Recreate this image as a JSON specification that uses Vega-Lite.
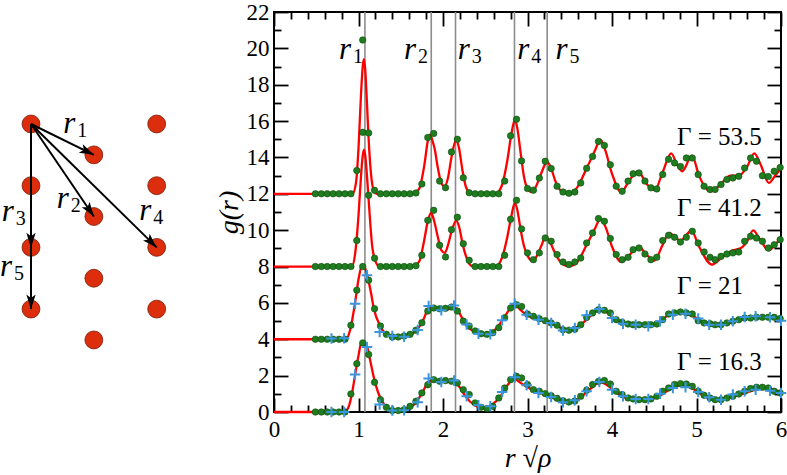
{
"$schema":"https://vega.github.io/schema/vega-lite/v6.json",
"padding":0,
"background":"white",
"spacing":0,
"config":{"view":{"stroke":null},"font":"Liberation Serif, Times New Roman, serif","axis":{"labelFont":"Liberation Serif, Times New Roman, serif","titleFont":"Liberation Serif, Times New Roman, serif","labelColor":"black","titleColor":"black","titleFontWeight":"normal"}},
"datasets":{
"lattice":[{"c":0,"r":0},{"c":0,"r":1},{"c":0,"r":2},{"c":0,"r":3},{"c":1,"r":0.5},{"c":1,"r":1.5},{"c":1,"r":2.5},{"c":1,"r":3.5},{"c":2,"r":0},{"c":2,"r":1},{"c":2,"r":2},{"c":2,"r":3}],
"bonds":[{"c0":0,"r0":0,"c":1,"r":0.5},{"c0":0,"r0":0,"c":1,"r":1.5},{"c0":0,"r0":0,"c":2,"r":2},{"c0":0,"r0":0,"c":0,"r":3}],
"heads":[{"c0":0,"r0":0,"c":1,"r":0.5},{"c0":0,"r0":0,"c":1,"r":1.5},{"c0":0,"r0":0,"c":2,"r":2},{"c0":0,"r0":0,"c":0,"r":2},{"c0":0,"r0":0,"c":0,"r":3}],
"latlab":[{"n":"1","c":0.514,"r":0.146},{"n":"2","c":0.409,"r":1.361},{"n":"4","c":1.723,"r":1.549},{"n":"3","c":-0.466,"r":1.577},{"n":"5","c":-0.493,"r":2.468}],
"shells":[{"x":1.076},{"x":1.861},{"x":2.148},{"x":2.846},{"x":3.233}],
"rlab":[{"n":"1","x":0.769,"y":19.44},{"n":"2","x":1.538,"y":19.44},{"n":"3","x":2.176,"y":19.44},{"n":"4","x":2.878,"y":19.44},{"n":"5","x":3.331,"y":19.44}],
"gam":[{"t":"Γ = 53.5","x":4.77,"y":14.67},{"t":"Γ = 41.2","x":4.77,"y":10.76},{"t":"Γ = 21","x":4.77,"y":6.51},{"t":"Γ = 16.3","x":4.77,"y":2.33}],
"theory":[
{"s":"a","x":0,"y":12},{"s":"a","x":0.93,"y":12},{"s":"a","x":0.97,"y":12.6},{"s":"a","x":1.0,"y":14.5},{"s":"a","x":1.03,"y":17.5},{"s":"a","x":1.05,"y":19.0},{"s":"a","x":1.064,"y":19.4},{"s":"a","x":1.08,"y":18.8},{"s":"a","x":1.1,"y":17.0},{"s":"a","x":1.12,"y":15.0},{"s":"a","x":1.15,"y":13.0},{"s":"a","x":1.18,"y":12.2},{"s":"a","x":1.22,"y":12.0},{"s":"a","x":1.65,"y":12.0},{"s":"a","x":1.72,"y":12.3},{"s":"a","x":1.78,"y":13.6},{"s":"a","x":1.82,"y":14.9},{"s":"a","x":1.845,"y":15.26},{"s":"a","x":1.87,"y":15.0},{"s":"a","x":1.9,"y":14.5},{"s":"a","x":1.94,"y":13.4},{"s":"a","x":1.98,"y":12.6},{"s":"a","x":2.02,"y":12.41},{"s":"a","x":2.06,"y":12.9},{"s":"a","x":2.1,"y":14.0},{"s":"a","x":2.156,"y":14.98},{"s":"a","x":2.19,"y":14.5},{"s":"a","x":2.23,"y":13.3},{"s":"a","x":2.27,"y":12.4},{"s":"a","x":2.32,"y":12.05},{"s":"a","x":2.36,"y":12.0},{"s":"a","x":2.62,"y":12.0},{"s":"a","x":2.7,"y":12.5},{"s":"a","x":2.76,"y":13.8},{"s":"a","x":2.81,"y":15.3},{"s":"a","x":2.85,"y":16.08},{"s":"a","x":2.88,"y":15.6},{"s":"a","x":2.92,"y":14.2},{"s":"a","x":2.96,"y":12.9},{"s":"a","x":3.0,"y":12.3},{"s":"a","x":3.05,"y":12.1},{"s":"a","x":3.1,"y":12.4},{"s":"a","x":3.16,"y":13.1},{"s":"a","x":3.232,"y":13.75},{"s":"a","x":3.28,"y":13.4},{"s":"a","x":3.33,"y":12.7},{"s":"a","x":3.4,"y":12.15},{"s":"a","x":3.49,"y":12.0},{"s":"a","x":3.58,"y":12.3},{"s":"a","x":3.7,"y":13.4},{"s":"a","x":3.8,"y":14.4},{"s":"a","x":3.863,"y":14.98},{"s":"a","x":3.92,"y":14.4},{"s":"a","x":4.0,"y":13.1},{"s":"a","x":4.11,"y":12.1},{"s":"a","x":4.2,"y":12.7},{"s":"a","x":4.31,"y":13.24},{"s":"a","x":4.4,"y":12.6},{"s":"a","x":4.506,"y":12.2},{"s":"a","x":4.6,"y":13.2},{"s":"a","x":4.7,"y":14.22},{"s":"a","x":4.77,"y":13.6},{"s":"a","x":4.83,"y":13.24},{"s":"a","x":4.947,"y":14.1},{"s":"a","x":5.03,"y":13.0},{"s":"a","x":5.164,"y":12.13},{"s":"a","x":5.28,"y":12.5},{"s":"a","x":5.4,"y":13.0},{"s":"a","x":5.5,"y":13.0},{"s":"a","x":5.6,"y":13.5},{"s":"a","x":5.684,"y":14.22},{"s":"a","x":5.76,"y":13.6},{"s":"a","x":5.855,"y":12.6},{"s":"a","x":5.93,"y":13.0},{"s":"a","x":6.0,"y":13.4},
{"s":"b","x":0,"y":8},{"s":"b","x":0.92,"y":8},{"s":"b","x":0.96,"y":8.7},{"s":"b","x":1.0,"y":10.8},{"s":"b","x":1.03,"y":13.0},{"s":"b","x":1.05,"y":14.1},{"s":"b","x":1.065,"y":14.43},{"s":"b","x":1.08,"y":14.1},{"s":"b","x":1.1,"y":13.0},{"s":"b","x":1.13,"y":11.0},{"s":"b","x":1.16,"y":9.2},{"s":"b","x":1.2,"y":8.3},{"s":"b","x":1.25,"y":8.0},{"s":"b","x":1.65,"y":8.0},{"s":"b","x":1.72,"y":8.3},{"s":"b","x":1.78,"y":9.5},{"s":"b","x":1.82,"y":10.5},{"s":"b","x":1.861,"y":10.95},{"s":"b","x":1.89,"y":10.6},{"s":"b","x":1.94,"y":9.6},{"s":"b","x":1.98,"y":8.9},{"s":"b","x":2.022,"y":8.75},{"s":"b","x":2.06,"y":9.2},{"s":"b","x":2.1,"y":9.9},{"s":"b","x":2.156,"y":10.53},{"s":"b","x":2.19,"y":10.2},{"s":"b","x":2.23,"y":9.3},{"s":"b","x":2.27,"y":8.6},{"s":"b","x":2.32,"y":8.1},{"s":"b","x":2.36,"y":8.0},{"s":"b","x":2.62,"y":8.0},{"s":"b","x":2.7,"y":8.5},{"s":"b","x":2.76,"y":9.6},{"s":"b","x":2.81,"y":10.8},{"s":"b","x":2.85,"y":11.5},{"s":"b","x":2.88,"y":11.1},{"s":"b","x":2.92,"y":10.0},{"s":"b","x":2.96,"y":9.1},{"s":"b","x":3.0,"y":8.6},{"s":"b","x":3.055,"y":8.33},{"s":"b","x":3.1,"y":8.5},{"s":"b","x":3.16,"y":9.1},{"s":"b","x":3.212,"y":9.61},{"s":"b","x":3.26,"y":9.4},{"s":"b","x":3.32,"y":8.8},{"s":"b","x":3.4,"y":8.2},{"s":"b","x":3.49,"y":8.01},{"s":"b","x":3.58,"y":8.2},{"s":"b","x":3.7,"y":9.2},{"s":"b","x":3.8,"y":10.1},{"s":"b","x":3.863,"y":10.64},{"s":"b","x":3.93,"y":10.1},{"s":"b","x":4.0,"y":9.1},{"s":"b","x":4.11,"y":8.25},{"s":"b","x":4.2,"y":8.6},{"s":"b","x":4.317,"y":9.11},{"s":"b","x":4.4,"y":8.7},{"s":"b","x":4.5,"y":8.33},{"s":"b","x":4.6,"y":9.2},{"s":"b","x":4.68,"y":9.85},{"s":"b","x":4.75,"y":9.6},{"s":"b","x":4.81,"y":9.43},{"s":"b","x":4.94,"y":9.98},{"s":"b","x":5.03,"y":9.1},{"s":"b","x":5.184,"y":8.11},{"s":"b","x":5.3,"y":8.5},{"s":"b","x":5.42,"y":8.88},{"s":"b","x":5.52,"y":9.0},{"s":"b","x":5.6,"y":9.4},{"s":"b","x":5.67,"y":9.99},{"s":"b","x":5.75,"y":9.5},{"s":"b","x":5.855,"y":8.89},{"s":"b","x":5.93,"y":9.2},{"s":"b","x":6.0,"y":9.57},
{"s":"c","x":0,"y":4},{"s":"c","x":0.85,"y":4.0},{"s":"c","x":0.9,"y":4.5},{"s":"c","x":0.958,"y":5.96},{"s":"c","x":1.0,"y":7.3},{"s":"c","x":1.045,"y":8.1},{"s":"c","x":1.08,"y":7.9},{"s":"c","x":1.104,"y":7.5},{"s":"c","x":1.15,"y":6.5},{"s":"c","x":1.18,"y":5.72},{"s":"c","x":1.26,"y":4.71},{"s":"c","x":1.35,"y":4.2},{"s":"c","x":1.458,"y":4.11},{"s":"c","x":1.58,"y":4.2},{"s":"c","x":1.695,"y":4.53},{"s":"c","x":1.77,"y":5.1},{"s":"c","x":1.833,"y":5.72},{"s":"c","x":1.9,"y":5.75},{"s":"c","x":1.95,"y":5.72},{"s":"c","x":2.04,"y":5.63},{"s":"c","x":2.13,"y":5.77},{"s":"c","x":2.2,"y":5.4},{"s":"c","x":2.266,"y":4.8},{"s":"c","x":2.38,"y":4.4},{"s":"c","x":2.503,"y":4.22},{"s":"c","x":2.6,"y":4.45},{"s":"c","x":2.7,"y":5.02},{"s":"c","x":2.78,"y":5.6},{"s":"c","x":2.838,"y":5.94},{"s":"c","x":2.92,"y":5.6},{"s":"c","x":3.016,"y":5.26},{"s":"c","x":3.12,"y":5.1},{"s":"c","x":3.21,"y":5.0},{"s":"c","x":3.29,"y":4.9},{"s":"c","x":3.41,"y":4.6},{"s":"c","x":3.49,"y":4.53},{"s":"c","x":3.6,"y":4.7},{"s":"c","x":3.75,"y":5.3},{"s":"c","x":3.863,"y":5.67},{"s":"c","x":3.95,"y":5.45},{"s":"c","x":4.05,"y":5.05},{"s":"c","x":4.12,"y":4.9},{"s":"c","x":4.25,"y":4.8},{"s":"c","x":4.435,"y":4.77},{"s":"c","x":4.55,"y":4.95},{"s":"c","x":4.68,"y":5.35},{"s":"c","x":4.81,"y":5.45},{"s":"c","x":4.95,"y":5.3},{"s":"c","x":5.05,"y":5.0},{"s":"c","x":5.22,"y":4.75},{"s":"c","x":5.4,"y":4.9},{"s":"c","x":5.578,"y":5.17},{"s":"c","x":5.78,"y":5.26},{"s":"c","x":5.9,"y":5.2},{"s":"c","x":6.0,"y":5.08},
{"s":"d","x":0,"y":0},{"s":"d","x":0.83,"y":0},{"s":"d","x":0.88,"y":0.25},{"s":"d","x":0.93,"y":1.2},{"s":"d","x":0.958,"y":2.0},{"s":"d","x":1.0,"y":3.1},{"s":"d","x":1.036,"y":3.85},{"s":"d","x":1.07,"y":3.75},{"s":"d","x":1.104,"y":3.55},{"s":"d","x":1.14,"y":2.8},{"s":"d","x":1.183,"y":1.87},{"s":"d","x":1.23,"y":1.1},{"s":"d","x":1.28,"y":0.59},{"s":"d","x":1.35,"y":0.2},{"s":"d","x":1.42,"y":0.08},{"s":"d","x":1.55,"y":0.15},{"s":"d","x":1.675,"y":0.5},{"s":"d","x":1.76,"y":1.1},{"s":"d","x":1.833,"y":1.69},{"s":"d","x":1.9,"y":1.75},{"s":"d","x":1.95,"y":1.69},{"s":"d","x":2.05,"y":1.65},{"s":"d","x":2.12,"y":1.7},{"s":"d","x":2.2,"y":1.35},{"s":"d","x":2.266,"y":0.86},{"s":"d","x":2.38,"y":0.35},{"s":"d","x":2.484,"y":0.19},{"s":"d","x":2.58,"y":0.4},{"s":"d","x":2.68,"y":0.86},{"s":"d","x":2.76,"y":1.45},{"s":"d","x":2.838,"y":1.82},{"s":"d","x":2.92,"y":1.6},{"s":"d","x":3.016,"y":1.32},{"s":"d","x":3.12,"y":1.1},{"s":"d","x":3.21,"y":0.96},{"s":"d","x":3.4,"y":0.6},{"s":"d","x":3.49,"y":0.53},{"s":"d","x":3.6,"y":0.7},{"s":"d","x":3.75,"y":1.3},{"s":"d","x":3.863,"y":1.65},{"s":"d","x":3.95,"y":1.45},{"s":"d","x":4.05,"y":1.05},{"s":"d","x":4.12,"y":0.86},{"s":"d","x":4.25,"y":0.72},{"s":"d","x":4.435,"y":0.68},{"s":"d","x":4.55,"y":0.85},{"s":"d","x":4.7,"y":1.3},{"s":"d","x":4.83,"y":1.47},{"s":"d","x":4.95,"y":1.3},{"s":"d","x":5.05,"y":1.0},{"s":"d","x":5.22,"y":0.68},{"s":"d","x":5.4,"y":0.8},{"s":"d","x":5.578,"y":1.04},{"s":"d","x":5.775,"y":1.29},{"s":"d","x":5.9,"y":1.25},{"s":"d","x":6.0,"y":1.1}
],
"sim":[
{"x":0.49,"a":12,"b":8,"c":4,"d":0},{"x":0.56,"a":12,"b":8,"c":4,"d":0},{"x":0.63,"a":12,"b":8,"c":4,"d":0},{"x":0.70,"a":12,"b":8,"c":4,"d":0},{"x":0.77,"a":12,"b":8,"c":4,"d":0},{"x":0.84,"a":12,"b":8,"c":4,"d":0},{"x":0.91,"a":12,"b":8,"c":4.77,"d":0.99},{"x":0.98,"a":13.28,"b":9.43,"c":6.7,"d":2.66},{"x":1.05,"a":20.46,"b":15.38,"c":8.0,"d":3.8},{"x":1.12,"a":15.35,"b":11.92,"c":7.25,"d":3.16},{"x":1.19,"a":12.19,"b":8.46,"c":5.68,"d":1.63},{"x":1.26,"a":12,"b":8,"c":4.73,"d":0.68},{"x":1.33,"a":12,"b":8,"c":4.27,"d":0.26},{"x":1.40,"a":12,"b":8,"c":4.13,"d":0.08},{"x":1.47,"a":12,"b":8,"c":4.13,"d":0.08},{"x":1.54,"a":12,"b":8,"c":4.18,"d":0.13},{"x":1.61,"a":12,"b":8,"c":4.27,"d":0.31},{"x":1.68,"a":12.05,"b":8.05,"c":4.5,"d":0.59},{"x":1.75,"a":12.54,"b":8.62,"c":4.91,"d":1.05},{"x":1.82,"a":15.1,"b":10.54,"c":5.55,"d":1.5},{"x":1.89,"a":15.32,"b":11.09,"c":5.72,"d":1.78},{"x":1.96,"a":12.7,"b":9.17,"c":5.68,"d":1.69},{"x":2.03,"a":12.34,"b":8.53,"c":5.7,"d":1.73},{"x":2.10,"a":14.3,"b":10.03,"c":5.77,"d":1.69},{"x":2.17,"a":15.0,"b":10.71,"c":5.55,"d":1.6},{"x":2.24,"a":12.88,"b":9.26,"c":5.0,"d":1.23},{"x":2.31,"a":12.06,"b":8.34,"c":4.73,"d":0.96},{"x":2.38,"a":12,"b":8,"c":4.46,"d":0.5},{"x":2.45,"a":12,"b":8,"c":4.31,"d":0.26},{"x":2.52,"a":12,"b":8,"c":4.27,"d":0.19},{"x":2.59,"a":12,"b":8,"c":4.36,"d":0.31},{"x":2.66,"a":12,"b":8,"c":4.64,"d":0.77},{"x":2.73,"a":12.7,"b":8.62,"c":5.19,"d":1.32},{"x":2.80,"a":15.19,"b":10.6,"c":5.72,"d":1.78},{"x":2.87,"a":16.1,"b":11.64,"c":5.9,"d":1.96},{"x":2.93,"a":13.81,"b":10.07,"c":5.8,"d":1.87},{"x":3.00,"a":12.29,"b":8.75,"c":5.39,"d":1.51},{"x":3.07,"a":12.2,"b":8.38,"c":5.26,"d":1.23},{"x":3.14,"a":12.87,"b":8.75,"c":5.13,"d":1.14},{"x":3.21,"a":13.79,"b":9.57,"c":5.02,"d":1.01},{"x":3.28,"a":13.39,"b":9.39,"c":4.9,"d":0.9},{"x":3.35,"a":12.42,"b":8.66,"c":4.77,"d":0.75},{"x":3.42,"a":12.1,"b":8.25,"c":4.53,"d":0.62},{"x":3.49,"a":12.03,"b":8.11,"c":4.5,"d":0.55},{"x":3.56,"a":12.1,"b":8.25,"c":4.55,"d":0.6},{"x":3.63,"a":12.6,"b":8.47,"c":4.8,"d":0.86},{"x":3.70,"a":13.4,"b":9.3,"c":5.2,"d":1.2},{"x":3.77,"a":14.05,"b":9.85,"c":5.45,"d":1.51},{"x":3.84,"a":14.88,"b":10.64,"c":5.62,"d":1.68},{"x":3.91,"a":14.66,"b":10.49,"c":5.59,"d":1.73},{"x":3.98,"a":13.6,"b":9.54,"c":5.45,"d":1.54},{"x":4.05,"a":12.42,"b":8.66,"c":5.08,"d":1.14},{"x":4.12,"a":12.14,"b":8.38,"c":4.93,"d":0.96},{"x":4.19,"a":12.7,"b":8.51,"c":4.84,"d":0.77},{"x":4.25,"a":13.1,"b":8.93,"c":4.8,"d":0.72},{"x":4.32,"a":13.15,"b":9.02,"c":4.8,"d":0.68},{"x":4.39,"a":12.7,"b":8.69,"c":4.8,"d":0.68},{"x":4.46,"a":12.33,"b":8.38,"c":4.8,"d":0.72},{"x":4.53,"a":12.27,"b":8.51,"c":4.84,"d":0.86},{"x":4.60,"a":13.06,"b":9.43,"c":5.08,"d":1.14},{"x":4.67,"a":13.9,"b":9.72,"c":5.39,"d":1.32},{"x":4.74,"a":13.7,"b":9.61,"c":5.45,"d":1.51},{"x":4.81,"a":13.5,"b":9.35,"c":5.5,"d":1.56},{"x":4.88,"a":13.97,"b":9.61,"c":5.45,"d":1.54},{"x":4.95,"a":13.97,"b":9.94,"c":5.39,"d":1.41},{"x":5.02,"a":13.06,"b":9.3,"c":5.02,"d":1.14},{"x":5.09,"a":12.42,"b":8.8,"c":4.9,"d":0.92},{"x":5.16,"a":12.24,"b":8.51,"c":4.86,"d":0.77},{"x":5.22,"a":12.24,"b":8.38,"c":4.8,"d":0.68},{"x":5.29,"a":12.51,"b":8.56,"c":4.8,"d":0.68},{"x":5.36,"a":12.79,"b":8.69,"c":4.9,"d":0.77},{"x":5.43,"a":12.87,"b":8.75,"c":4.99,"d":0.86},{"x":5.50,"a":12.96,"b":8.8,"c":5.08,"d":0.99},{"x":5.57,"a":13.42,"b":9.39,"c":5.17,"d":1.14},{"x":5.64,"a":13.97,"b":9.66,"c":5.17,"d":1.29},{"x":5.71,"a":13.79,"b":9.57,"c":5.21,"d":1.36},{"x":5.78,"a":13.0,"b":9.39,"c":5.21,"d":1.36},{"x":5.85,"a":12.95,"b":9.02,"c":5.21,"d":1.32},{"x":5.92,"a":13.24,"b":9.2,"c":5.21,"d":1.14},{"x":5.99,"a":13.45,"b":9.48,"c":5.14,"d":1.05}
],
"sim2":[
{"x":0.68,"c":4.04,"d":0},{"x":0.83,"c":4.05,"d":0},{"x":0.96,"c":5.96,"d":2.06},{"x":1.10,"c":7.52,"d":3.58},{"x":1.25,"c":4.4,"d":0.41},{"x":1.40,"c":4.18,"d":0.08},{"x":1.54,"c":4.14,"d":0.1},{"x":1.70,"c":4.51,"d":0.53},{"x":1.83,"c":5.83,"d":1.84},{"x":1.98,"c":5.59,"d":1.65},{"x":2.13,"c":5.86,"d":1.73},{"x":2.28,"c":4.81,"d":0.86},{"x":2.42,"c":4.31,"d":0.37},{"x":2.56,"c":4.27,"d":0.31},{"x":2.70,"c":5.04,"d":1.1},{"x":2.85,"c":5.96,"d":1.91},{"x":2.99,"c":5.35,"d":1.47},{"x":3.13,"c":5.08,"d":1.05},{"x":3.28,"c":4.9,"d":0.83},{"x":3.42,"c":4.48,"d":0.53},{"x":3.56,"c":4.62,"d":0.64},{"x":3.70,"c":5.32,"d":1.14},{"x":3.85,"c":5.66,"d":1.65},{"x":4.00,"c":5.17,"d":1.23},{"x":4.13,"c":4.86,"d":0.86},{"x":4.28,"c":4.8,"d":0.72},{"x":4.43,"c":4.71,"d":0.72},{"x":4.57,"c":4.99,"d":1.01},{"x":4.72,"c":5.35,"d":1.32},{"x":4.87,"c":5.41,"d":1.36},{"x":5.02,"c":5.14,"d":1.1},{"x":5.15,"c":4.8,"d":0.81},{"x":5.29,"c":4.8,"d":0.68},{"x":5.43,"c":4.99,"d":0.96},{"x":5.57,"c":5.23,"d":1.14},{"x":5.70,"c":5.26,"d":1.23},{"x":5.87,"c":5.21,"d":1.17},{"x":6.00,"c":5.02,"d":1.04}
]
},
"hconcat":[
{"width":213.5,"height":400,
"layer":[
{"data":{"name":"lattice"},"mark":{"type":"point","shape":"circle","filled":true,"fill":"#dc2e0c","stroke":"#7a1a08","strokeWidth":0.8,"size":320,"opacity":1},
"encoding":{"x":{"field":"c","type":"quantitative","scale":{"domain":[-0.4932,2.904],"nice":false,"zero":false},"axis":null},"y":{"field":"r","type":"quantitative","scale":{"domain":[-1.815,4.668],"nice":false,"zero":false,"reverse":true},"axis":null}}},
{"data":{"name":"bonds"},"mark":{"type":"rule","color":"black","strokeWidth":2},
"encoding":{"x":{"field":"c0","type":"quantitative","scale":{"domain":[-0.4932,2.904],"nice":false,"zero":false},"axis":null},"y":{"field":"r0","type":"quantitative","scale":{"domain":[-1.815,4.668],"nice":false,"zero":false,"reverse":true},"axis":null},"x2":{"field":"c"},"y2":{"field":"r"}}},
{"data":{"name":"heads"},"transform":[{"calculate":"atan2((datum.c-datum.c0)*62.85, -(datum.r-datum.r0)*61.7)*180/PI","as":"ang"}],
"mark":{"type":"point","shape":"M0,0L-0.42,1.3L0,1.0L0.42,1.3Z","filled":true,"color":"black","size":500,"opacity":1,"strokeWidth":0},
"encoding":{"x":{"field":"c","type":"quantitative","scale":{"domain":[-0.4932,2.904],"nice":false,"zero":false},"axis":null},"y":{"field":"r","type":"quantitative","scale":{"domain":[-1.815,4.668],"nice":false,"zero":false,"reverse":true},"axis":null},"angle":{"field":"ang","type":"quantitative","scale":null}}},
{"data":{"name":"latlab"},"mark":{"type":"text","text":"r","font":"Liberation Serif, Times New Roman, serif","fontStyle":"italic","fontSize":31,"align":"left","baseline":"alphabetic","color":"black"},
"encoding":{"x":{"field":"c","type":"quantitative","scale":{"domain":[-0.4932,2.904],"nice":false,"zero":false},"axis":null},"y":{"field":"r","type":"quantitative","scale":{"domain":[-1.815,4.668],"nice":false,"zero":false,"reverse":true},"axis":null}}},
{"data":{"name":"latlab"},"mark":{"type":"text","font":"Liberation Serif, Times New Roman, serif","fontSize":20,"align":"left","baseline":"alphabetic","dx":14,"dy":4,"color":"black"},
"encoding":{"x":{"field":"c","type":"quantitative","scale":{"domain":[-0.4932,2.904],"nice":false,"zero":false},"axis":null},"y":{"field":"r","type":"quantitative","scale":{"domain":[-1.815,4.668],"nice":false,"zero":false,"reverse":true},"axis":null},"text":{"field":"n"}}}
]},
{"width":507,"height":400,
"view":{"stroke":"black","strokeWidth":2},
"resolve":{"axis":{"x":"independent","y":"independent"}},
"layer":[
{"data":{"name":"shells"},"mark":{"type":"rule","color":"#8c8c8c","strokeWidth":1.6},
"encoding":{"x":{"field":"x","type":"quantitative","scale":{"domain":[0,6],"nice":false,"zero":false},"axis":{"orient":"top","values":[0,1,2,3,4,5,6],"labels":false,"domain":false,"grid":false,"tickSize":14,"offset":-14,"tickColor":"black","tickWidth":1.8,"title":null}}}},
{"data":{"name":"theory"},"mark":{"type":"line","color":"#ff0000","strokeWidth":2.3,"interpolate":"monotone"},
"encoding":{"x":{"field":"x","type":"quantitative","scale":{"domain":[0,6],"nice":false,"zero":false},"axis":{"orient":"bottom","values":[0,1,2,3,4,5,6],"ticks":false,"domain":false,"grid":false,"labelFontSize":23,"labelPadding":6,"labelFlush":false,"labelOverlap":false,"title":"r √ρ","titleFontSize":28,"titleFontStyle":"italic","titlePadding":3}},
"y":{"field":"y","type":"quantitative","scale":{"domain":[0,22],"nice":false,"zero":false},"axis":{"orient":"left","values":[0,2,4,6,8,10,12,14,16,18,20,22],"ticks":false,"domain":false,"grid":false,"labelFontSize":23,"labelPadding":5,"labelFlush":false,"labelOverlap":false,"title":"g(r)","titleFontSize":28,"titleFontStyle":"italic","titlePadding":3}},
"detail":{"field":"s"}}},
{"data":{"name":"sim"},"transform":[{"fold":["a","b","c","d"],"as":["s","y"]}],
"mark":{"type":"point","shape":"circle","filled":true,"fill":"#1f7d1f","stroke":"#0d4a0d","strokeWidth":0.6,"size":42,"opacity":1},
"encoding":{"x":{"field":"x","type":"quantitative","scale":{"domain":[0,6],"nice":false,"zero":false},"axis":{"orient":"bottom","values":[0,1,2,3,4,5,6],"labels":false,"domain":false,"grid":false,"tickSize":14,"offset":-14,"tickColor":"black","tickWidth":1.8,"title":null}},
"y":{"field":"y","type":"quantitative","scale":{"domain":[0,22],"nice":false,"zero":false},"axis":{"orient":"left","values":[0,2,4,6,8,10,12,14,16,18,20,22],"labels":false,"domain":false,"grid":false,"tickSize":14,"offset":-14,"tickColor":"black","tickWidth":1.8,"title":null}}}},
{"data":{"name":"sim2"},"transform":[{"fold":["c","d"],"as":["s","y"]}],
"mark":{"type":"point","shape":"M-1,0L1,0M0,-1L0,1","filled":false,"stroke":"#3a95df","strokeWidth":2,"size":110,"opacity":1},
"encoding":{"x":{"field":"x","type":"quantitative","scale":{"domain":[0,6],"nice":false,"zero":false},"axis":{"orient":"bottom","values":[0.2,0.4,0.6,0.8,1.2,1.4,1.6,1.8,2.2,2.4,2.6,2.8,3.2,3.4,3.6,3.8,4.2,4.4,4.6,4.8,5.2,5.4,5.6,5.8],"labels":false,"domain":false,"grid":false,"tickSize":7,"offset":-7,"tickColor":"black","tickWidth":1.8,"title":null}},
"y":{"field":"y","type":"quantitative","scale":{"domain":[0,22],"nice":false,"zero":false},"axis":{"orient":"left","values":[1,3,5,7,9,11,13,15,17,19,21],"labels":false,"domain":false,"grid":false,"tickSize":7,"offset":-7,"tickColor":"black","tickWidth":1.8,"title":null}}}},
{"data":{"name":"gam"},"mark":{"type":"text","font":"Liberation Serif, Times New Roman, serif","fontSize":25,"align":"left","baseline":"alphabetic","color":"black"},
"encoding":{"x":{"field":"x","type":"quantitative","scale":{"domain":[0,6],"nice":false,"zero":false},"axis":{"orient":"top","values":[0.2,0.4,0.6,0.8,1.2,1.4,1.6,1.8,2.2,2.4,2.6,2.8,3.2,3.4,3.6,3.8,4.2,4.4,4.6,4.8,5.2,5.4,5.6,5.8],"labels":false,"domain":false,"grid":false,"tickSize":7,"offset":-7,"tickColor":"black","tickWidth":1.8,"title":null}},
"y":{"field":"y","type":"quantitative","scale":{"domain":[0,22],"nice":false,"zero":false},"axis":{"orient":"right","values":[0,2,4,6,8,10,12,14,16,18,20,22],"labels":false,"domain":false,"grid":false,"tickSize":14,"offset":-14,"tickColor":"black","tickWidth":1.8,"title":null}},
"text":{"field":"t"}}},
{"data":{"name":"rlab"},"mark":{"type":"text","text":"r","font":"Liberation Serif, Times New Roman, serif","fontStyle":"italic","fontSize":31,"align":"left","baseline":"alphabetic","color":"black"},
"encoding":{"x":{"field":"x","type":"quantitative","scale":{"domain":[0,6],"nice":false,"zero":false},"axis":null},
"y":{"field":"y","type":"quantitative","scale":{"domain":[0,22],"nice":false,"zero":false},"axis":{"orient":"right","values":[1,3,5,7,9,11,13,15,17,19,21],"labels":false,"domain":false,"grid":false,"tickSize":7,"offset":-7,"tickColor":"black","tickWidth":1.8,"title":null}}}},
{"data":{"name":"rlab"},"mark":{"type":"text","font":"Liberation Serif, Times New Roman, serif","fontSize":20,"align":"left","baseline":"alphabetic","dx":14,"dy":4,"color":"black"},
"encoding":{"x":{"field":"x","type":"quantitative","scale":{"domain":[0,6],"nice":false,"zero":false},"axis":null},
"y":{"field":"y","type":"quantitative","scale":{"domain":[0,22],"nice":false,"zero":false},"axis":null},"text":{"field":"n"}}}
]}
]
}
